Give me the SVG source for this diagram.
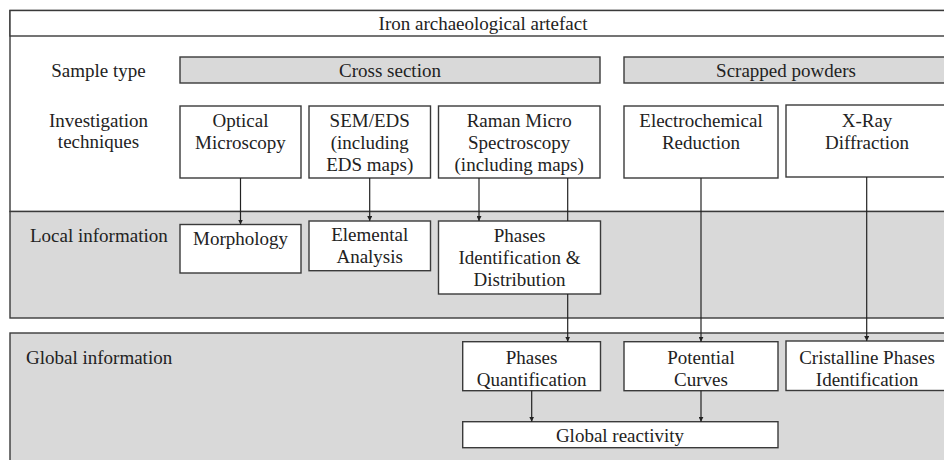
<svg xmlns="http://www.w3.org/2000/svg" width="944" height="460" viewBox="0 0 944 460">
<defs>
<style>
text{font-family:"Liberation Serif","Times New Roman",serif;font-size:19px;fill:#222;}
.c{text-anchor:middle;}
.box{fill:#fff;stroke:#3a3a3a;stroke-width:1.4;}
.gbox{fill:#d9d9d9;stroke:#3a3a3a;stroke-width:1.4;}
.band{fill:#d9d9d9;stroke:#3a3a3a;stroke-width:1.4;}
.wband{fill:#fff;stroke:#3a3a3a;stroke-width:1.4;}
.ln{stroke:#222;stroke-width:1.2;fill:none;}
.ar{stroke:#222;stroke-width:1.2;fill:none;marker-end:url(#ah);}
</style>
<marker id="ah" viewBox="0 0 8 8" refX="8" refY="4" markerWidth="5" markerHeight="5" orient="auto" markerUnits="userSpaceOnUse">
<path d="M0,0 L8,4 L0,8 z" fill="#222"/>
</marker>
</defs>
<rect x="0" y="0" width="944" height="460" fill="#fff"/>

<g id="bands">
<rect class="wband" x="10" y="10.5" width="945" height="201"/>
<rect class="band" x="10" y="211.5" width="945" height="106.5"/>
<rect class="band" x="10" y="333" width="945" height="140"/>
</g>

<g id="title"><rect class="wband" x="10" y="10.5" width="945" height="25.5"/><text class="c" x="483" y="30">Iron archaeological artefact</text></g>

<g id="label-sample"><text class="c" x="98.5" y="77">Sample type</text></g>
<g id="label-invest"><text class="c" x="98.5" y="126.5">Investigation</text><text class="c" x="98.5" y="148">techniques</text></g>
<g id="label-local"><text x="30" y="241.5">Local information</text></g>
<g id="label-global"><text x="26" y="363.5">Global information</text></g>

<g id="cross-section"><rect class="gbox" x="180" y="57" width="420" height="26"/><text class="c" x="390" y="77">Cross section</text></g>
<g id="scrapped-powders"><rect class="gbox" x="624" y="57" width="330" height="26"/><text class="c" x="786" y="77">Scrapped powders</text></g>

<g id="optical"><rect class="box" x="180" y="106" width="121" height="72"/><text class="c" x="240.5" y="126.5">Optical</text><text class="c" x="240.5" y="148.5">Microscopy</text></g>
<g id="sem"><rect class="box" x="309" y="106" width="121.5" height="72"/><text class="c" x="369.7" y="126.5">SEM/EDS</text><text class="c" x="369.7" y="148.5">(including</text><text class="c" x="369.7" y="170.5">EDS maps)</text></g>
<g id="raman"><rect class="box" x="438.5" y="106" width="161.5" height="72"/><text class="c" x="519.2" y="126.5">Raman Micro</text><text class="c" x="519.2" y="148.5">Spectroscopy</text><text class="c" x="519.2" y="170.5">(including maps)</text></g>
<g id="electrochem"><rect class="box" x="624" y="106" width="154" height="72"/><text class="c" x="701" y="126.5">Electrochemical</text><text class="c" x="701" y="148.5">Reduction</text></g>
<g id="xrd"><rect class="box" x="786" y="105" width="170" height="72"/><text class="c" x="867" y="126.5">X-Ray</text><text class="c" x="867" y="148.5">Diffraction</text></g>

<g id="morphology"><rect class="box" x="180" y="224.5" width="121" height="48.5"/><text class="c" x="240.5" y="245">Morphology</text></g>
<g id="elemental"><rect class="box" x="309" y="221" width="121.5" height="49.7"/><text class="c" x="369.7" y="240.7">Elemental</text><text class="c" x="369.7" y="263">Analysis</text></g>
<g id="phases-id"><rect class="box" x="438.5" y="221" width="162" height="73"/><text class="c" x="519.5" y="241.5">Phases</text><text class="c" x="519.5" y="263.5">Identification &amp;</text><text class="c" x="519.5" y="286">Distribution</text></g>

<g id="phases-quant"><rect class="box" x="462.7" y="341.7" width="137.8" height="49"/><text class="c" x="531.6" y="363.5">Phases</text><text class="c" x="531.6" y="385.5">Quantification</text></g>
<g id="potential"><rect class="box" x="624" y="341.7" width="154" height="49"/><text class="c" x="701" y="363.5">Potential</text><text class="c" x="701" y="385.5">Curves</text></g>
<g id="cristalline"><rect class="box" x="786" y="341" width="170" height="49.5"/><text class="c" x="867" y="363.5">Cristalline Phases</text><text class="c" x="867" y="385.5">Identification</text></g>
<g id="global-reactivity"><rect class="box" x="462.7" y="421.7" width="315.3" height="26"/><text class="c" x="620" y="442">Global reactivity</text></g>

<g id="connectors">
<line class="ar" x1="240.5" y1="178" x2="240.5" y2="224.5"/>
<line class="ar" x1="369.7" y1="178" x2="369.7" y2="221"/>
<line class="ar" x1="479" y1="178" x2="479" y2="221"/>
<line class="ln" x1="567.7" y1="178" x2="567.7" y2="221"/>
<line class="ar" x1="567.7" y1="294" x2="567.7" y2="341.7"/>
<line class="ar" x1="701" y1="178" x2="701" y2="341.7"/>
<line class="ar" x1="866.7" y1="177" x2="866.7" y2="341"/>
<line class="ar" x1="531.7" y1="390.7" x2="531.7" y2="421.7"/>
<line class="ar" x1="701" y1="390.7" x2="701" y2="421.7"/>
</g>
</svg>
